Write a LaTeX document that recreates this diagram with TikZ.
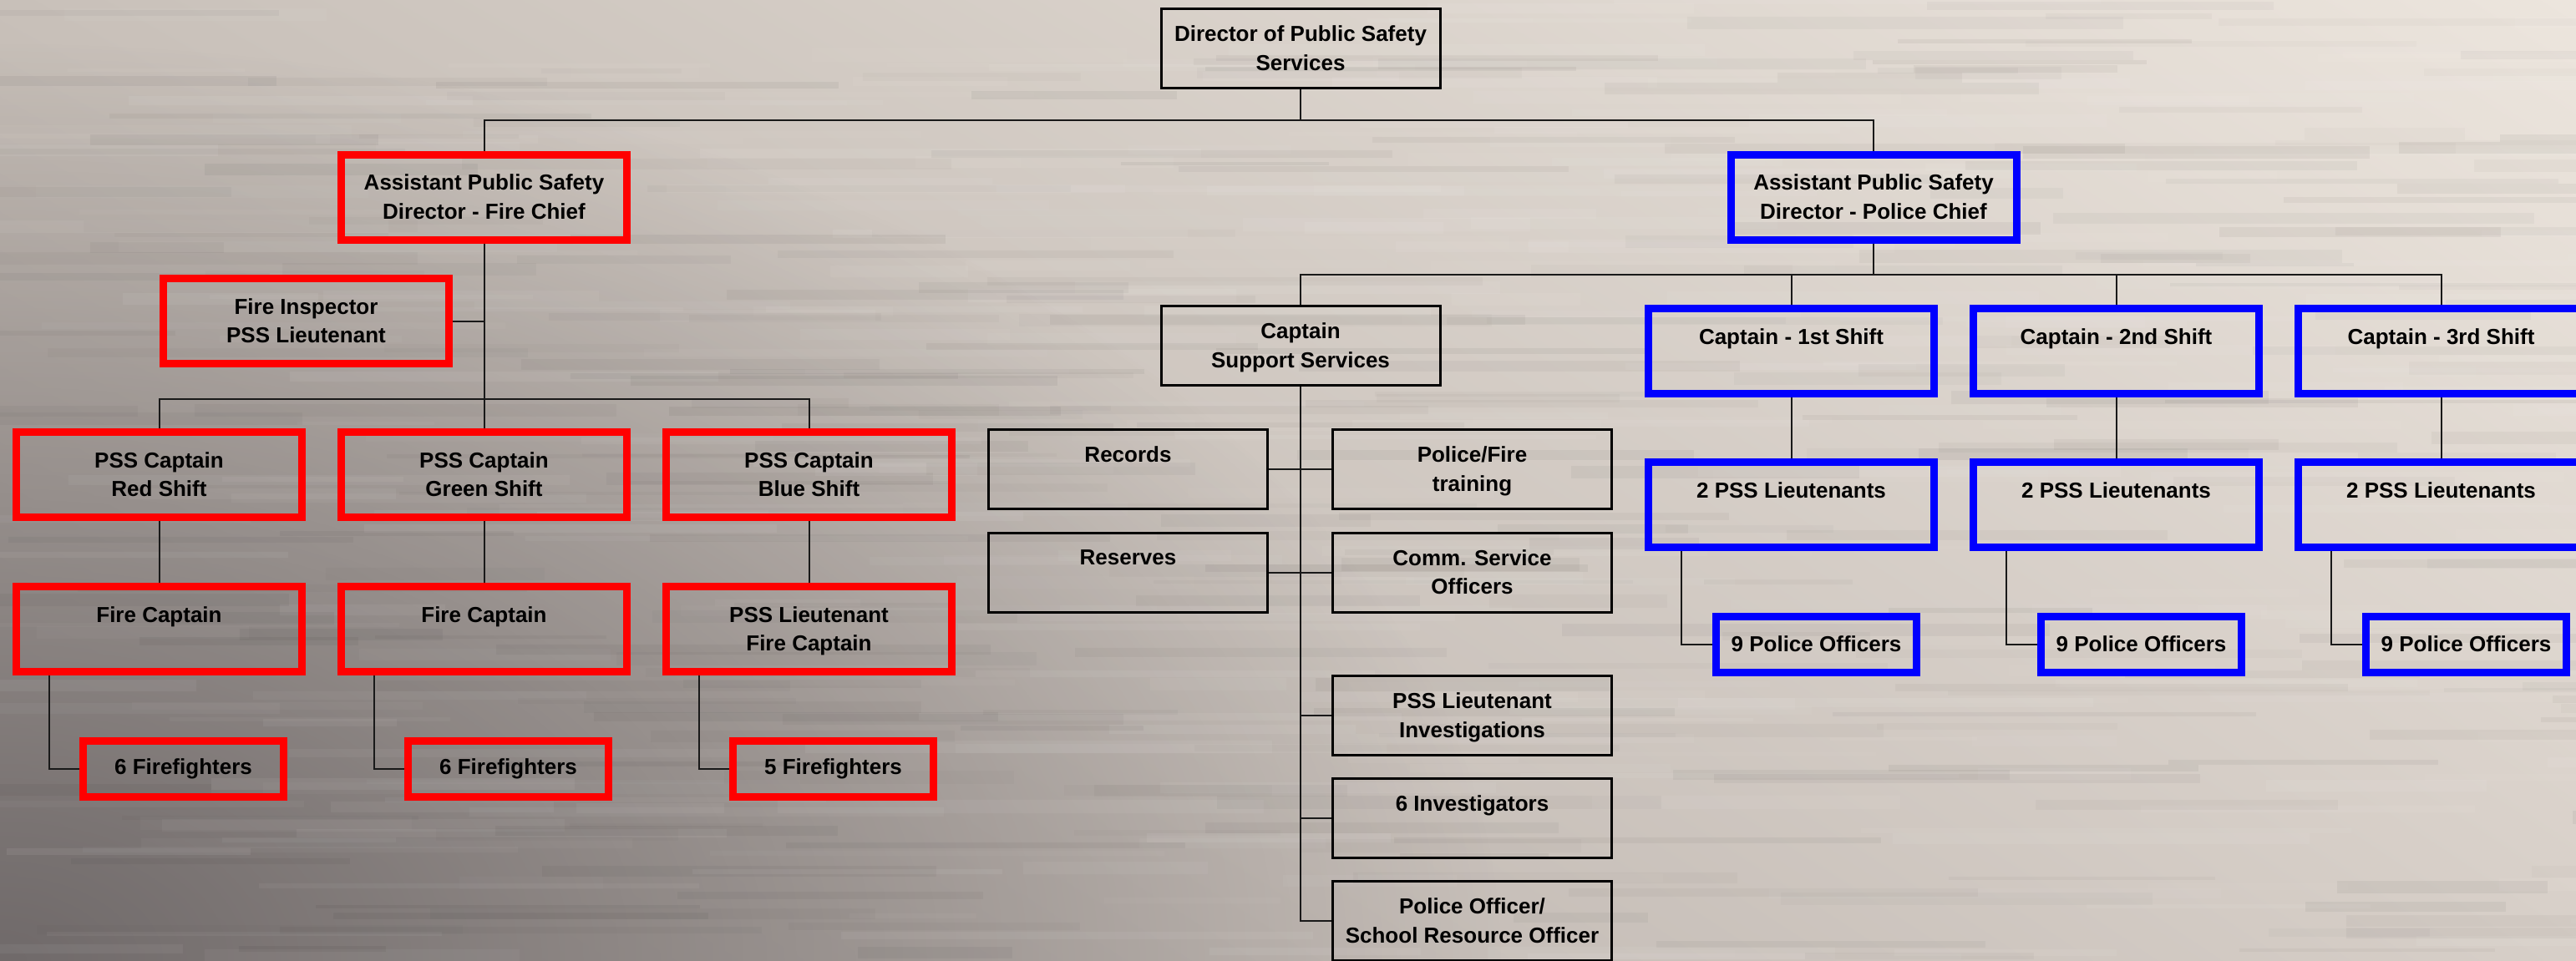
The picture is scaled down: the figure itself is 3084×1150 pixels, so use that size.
\documentclass[tikz,border=0pt]{standalone}
\usepackage{fontspec}
\setmainfont{Liberation Sans}
\usetikzlibrary{fadings,shadings}
\definecolor{pred}{RGB}{255,0,0}
\definecolor{pblue}{RGB}{0,0,255}
\definecolor{bgUL}{RGB}{200,192,185}
\definecolor{bgUR}{RGB}{236,229,221}
\definecolor{bgLL}{RGB}{175,167,162}
\definecolor{bgLR}{RGB}{215,207,200}
\definecolor{bgdark}{RGB}{112,106,106}
\definecolor{lnk}{RGB}{25,25,25}
\newcommand\txtfont{\fontsize{6.5}{8.6}\selectfont\bfseries}
\tikzfading[name=cornerfade, inner color=transparent!0, outer color=transparent!100]
\tikzset{
  bk/.style={rectangle, draw=black, line width=0.75pt, inner sep=0pt, minimum width=83.5pt, minimum height=23.75pt},
  rd/.style={rectangle, draw=pred, line width=2.25pt, inner sep=0pt, minimum width=85.5pt, minimum height=25.5pt},
  bl/.style={rd, draw=pblue},
  rds/.style={rd, minimum width=60pt, minimum height=16.75pt, font=\txtfont},
  bls/.style={rds, draw=pblue},
  txt/.style={font=\txtfont, align=center, inner sep=0pt, anchor=north},
  conn/.style={draw=lnk, line width=0.5pt}
}
\newcommand\bbox[4]{\node[#1] (#2) at (#3) {}; \node[txt] (#2t) at ([yshift=-5.25pt]#2.north) {#4};}
\newcommand\cbox[4]{\node[#1] (#2) at (#3) {}; \node[txt] (#2t) at ([yshift=-6.9pt]#2.north) {#4};}
\begin{document}
\begin{tikzpicture}[x=0.25pt, y=-0.25pt]
\useasboundingbox (0,0) rectangle (3084,1150);
% background
\shade[upper left=bgUL, upper right=bgUR, lower left=bgLL, lower right=bgLR] (0,0) rectangle (3084,1150);
\fill[bgdark, path fading=cornerfade] (0,1150) ellipse [x radius=1800, y radius=1100];
\pgfmathsetseed{7}
\foreach \i in {1,...,300}{
  \pgfmathsetmacro\sx{rnd*3200-100}
  \pgfmathsetmacro\sy{rnd*1150}
  \pgfmathsetmacro\sl{150+rnd*450}
  \pgfmathsetmacro\sh{4+rnd*12}
  \pgfmathsetmacro\so{0.02+rnd*0.045}
  \fill[white, opacity=\so] (\sx,\sy) rectangle ++(\sl,\sh);
}
\foreach \i in {1,...,260}{
  \pgfmathsetmacro\sx{rnd*3200-100}
  \pgfmathsetmacro\sy{rnd*1150}
  \pgfmathsetmacro\sl{150+rnd*450}
  \pgfmathsetmacro\sh{4+rnd*12}
  \pgfmathsetmacro\so{0.015+rnd*0.03}
  \fill[black, opacity=\so] (\sx,\sy) rectangle ++(\sl,\sh);
}
% boxes: top
\bbox{bk}{dir}{1557,58}{Director of Public Safety\\Services}
\cbox{rd}{fc}{579.5,236}{Assistant Public Safety\\Director - Fire Chief}
\cbox{bl}{pc}{2243,236}{Assistant Public Safety\\Director - Police Chief}
% fire side
\cbox{rd}{fi}{366.5,384.5}{Fire Inspector\\PSS Lieutenant}
\cbox{rd}{sr}{190.5,568.5}{PSS Captain\\Red Shift}
\cbox{rd}{sg}{579.5,568.5}{PSS Captain\\Green Shift}
\cbox{rd}{sb}{968.5,568.5}{PSS Captain\\Blue Shift}
\cbox{rd}{fa}{190.5,753.5}{Fire Captain}
\cbox{rd}{fb}{579.5,753.5}{Fire Captain}
\cbox{rd}{fd}{968.5,753.5}{PSS Lieutenant\\Fire Captain}
\node[rds] (ffa) at (219.5,920.5) {6 Firefighters};
\node[rds] (ffb) at (608.5,920.5) {6 Firefighters};
\node[rds] (ffd) at (997.5,920.5) {5 Firefighters};
% support services
\bbox{bk}{css}{1557,414}{Captain\\Support Services}
\bbox{bk}{rec}{1350.5,562}{Records}
\bbox{bk}{pft}{1762.5,562}{Police/Fire\\training}
\bbox{bk}{res}{1350.5,685.5}{Reserves}
\bbox{bk}{cso}{1762.5,685.5}{Comm. Service\\Officers}
\bbox{bk}{pli}{1762.5,857}{PSS Lieutenant\\Investigations}
\bbox{bk}{inv}{1762.5,980}{6 Investigators}
\bbox{bk}{sro}{1762.5,1103}{Police Officer/\\School Resource Officer}
% police side
\cbox{bl}{ca}{2144.5,420.5}{Captain - 1st Shift}
\cbox{bl}{cb}{2533.5,420.5}{Captain - 2nd Shift}
\cbox{bl}{cc}{2922.5,420.5}{Captain - 3rd Shift}
\cbox{bl}{la}{2144.5,604.5}{2 PSS Lieutenants}
\cbox{bl}{lb}{2533.5,604.5}{2 PSS Lieutenants}
\cbox{bl}{lc}{2922.5,604.5}{2 PSS Lieutenants}
\node[bls] (poa) at (2174.5,771.5) {9 Police Officers};
\node[bls] (pob) at (2563.5,771.5) {9 Police Officers};
\node[bls] (poc) at (2952.5,771.5) {9 Police Officers};
% connectors
\coordinate (b1) at (1557,144);
\coordinate (b2) at (579.5,478);
\coordinate (b3) at (2243,329);
\draw[conn] (dir.south) -- (b1);
\draw[conn] (fc.north) |- (b1) -| (pc.north);
\draw[conn] (fc.south) -- (sg.north);
\draw[conn] (fi.east) -- (fi.east -| fc.south);
\draw[conn] (sr.north) |- (b2) -| (sb.north);
\draw[conn] (sr.south) -- (fa.north);
\draw[conn] (sg.south) -- (fb.north);
\draw[conn] (sb.south) -- (fd.north);
\draw[conn] ([xshift=11pt]fa.south west) |- (ffa.west);
\draw[conn] ([xshift=11pt]fb.south west) |- (ffb.west);
\draw[conn] ([xshift=11pt]fd.south west) |- (ffd.west);
\draw[conn] (pc.south) -- (b3);
\draw[conn] (css.north) |- (b3) -| (cc.north);
\draw[conn] (b3 -| ca.north) -- (ca.north);
\draw[conn] (b3 -| cb.north) -- (cb.north);
\draw[conn] (ca.south) -- (la.north);
\draw[conn] (cb.south) -- (lb.north);
\draw[conn] (cc.south) -- (lc.north);
\draw[conn] ([xshift=11pt]la.south west) |- (poa.west);
\draw[conn] ([xshift=11pt]lb.south west) |- (pob.west);
\draw[conn] ([xshift=11pt]lc.south west) |- (poc.west);
\draw[conn] (css.south) |- (sro.west);
\draw[conn] (rec.east) -- (pft.west);
\draw[conn] (res.east) -- (cso.west);
\draw[conn] (css.south |- pli.west) -- (pli.west);
\draw[conn] (css.south |- inv.west) -- (inv.west);
\end{tikzpicture}
\end{document}
